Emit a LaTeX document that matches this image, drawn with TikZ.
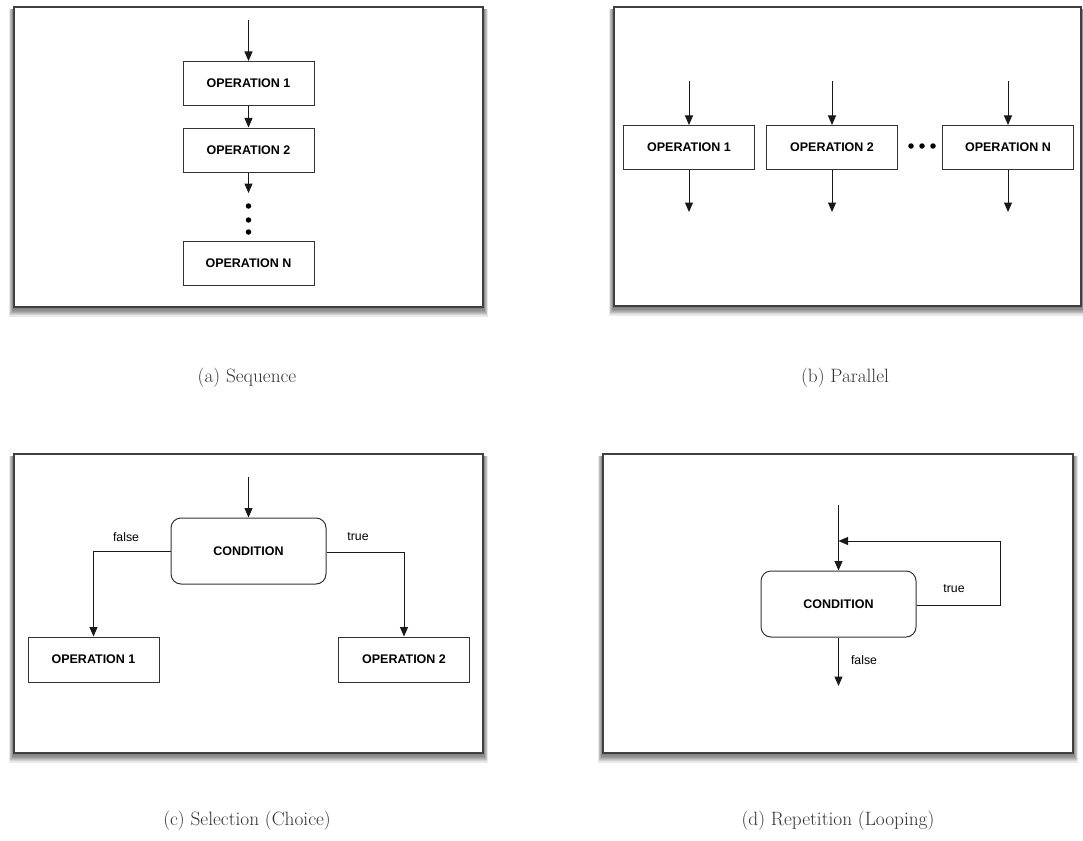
\documentclass[tikz,border=0pt]{standalone}
\usepackage{fontspec}
\newfontfamily\helv{Liberation Sans}
\usetikzlibrary{arrows.meta,calc}
\tikzset{
  frame/.style={draw=black!75,line width=1.5pt,fill=white},
  opbox/.style={draw=black!80,line width=1pt,minimum width=131pt,minimum height=44pt,inner sep=0pt,font=\helv\fontsize{12.5}{14}\selectfont\bfseries},
  condbox/.style={draw=black!80,line width=1pt,rounded corners=10pt,minimum width=155pt,minimum height=66pt,inner sep=0pt,font=\helv\fontsize{12.5}{14}\selectfont\bfseries},
  conn/.style={draw=black!90,line width=1pt,-{Triangle[length=9.5pt,width=8pt]}},
  lbl/.style={font=\helv\fontsize{12.3}{14}\selectfont,inner sep=0pt},
  captext/.style={font=\fontsize{19.3}{22}\selectfont,text=black!80,inner sep=0pt},
  dotnode/.style={fill=black,circle,inner sep=0pt,minimum size=5.5pt}
}
\newcommand{\shadowframe}[4]{%
  \foreach \i in {1,...,8}{
    \fill[black,opacity=0.09] ($(#1,#2)+(-\i*0.6,2)$) rectangle ($(#3,#4)+(\i*0.6,\i*1.2)$);
  }
  \draw[frame] (#1,#2) rectangle (#3,#4);
}
\begin{document}
\begin{tikzpicture}[x=1pt,y=-1pt]
\useasboundingbox (0,0) rectangle (1083,840);
\fill[white] (0,0) rectangle (1083,840);

% frames
\shadowframe{14}{7}{483}{307}
\shadowframe{614}{7}{1081}{306}
\shadowframe{14}{454}{483}{753}
\shadowframe{603}{454}{1073}{753}

% ---- (a) Sequence
\node[opbox] (a1) at (248.5,83.5) {OPERATION 1};
\node[opbox] (a2) at (248.5,150) {OPERATION 2};
\node[opbox] (an) at (248.5,263) {OPERATION N};
\coordinate (ain) at (248.5,20);
\coordinate (aout) at (248.5,193);
\draw[conn] (ain) -- (a1.north);
\draw[conn] (a1.south) -- (a2.north);
\draw[conn] (a2.south) -- (aout);
\node[dotnode] (ad1) at (248.5,206) {};
\node[dotnode] (ad2) at (248.5,220) {};
\node[dotnode] (ad3) at (248.5,232) {};
\node[captext] (capa) at (247,378) {(a) Sequence};

% ---- (b) Parallel
\node[opbox] (b1) at (689,147.5) {OPERATION 1};
\node[opbox] (b2) at (832,147.5) {OPERATION 2};
\node[opbox] (bn) at (1008,147.5) {OPERATION N};
\foreach \n in {b1,b2,bn}{
  \coordinate (\n in) at ($(\n.north)+(0,-44)$);
  \coordinate (\n out) at ($(\n.south)+(0,42)$);
  \draw[conn] (\n in) -- (\n.north);
  \draw[conn] (\n.south) -- (\n out);
}
\node[dotnode] (bd1) at (911,146) {};
\node[dotnode] (bd2) at (922,146) {};
\node[dotnode] (bd3) at (933,146) {};
\node[captext] (capb) at (845,378) {(b) Parallel};

% ---- (c) Selection
\node[condbox] (cc) at (248.5,551) {CONDITION};
\node[opbox,minimum height=45pt] (c1) at (93.5,659.5) {OPERATION 1};
\node[opbox,minimum height=45pt] (c2) at (404,659.5) {OPERATION 2};
\coordinate (cin) at (248.5,477);
\draw[conn] (cin) -- (cc.north);
\draw[conn] (cc.west) -- (c1.north |- cc.west) -- (c1.north);
\draw[conn] ($(cc.east)+(0,1.5)$) -- ($(c2.north |- cc.east)+(0,1.5)$) -- (c2.north);
\node[lbl] (cf) at (126,537) {false};
\node[lbl] (ct) at (358,537) {true};
\node[captext] (capc) at (247,821) {(c) Selection (Choice)};

% ---- (d) Repetition
\node[condbox] (dc) at (838.5,604) {CONDITION};
\coordinate (din) at (838.5,505);
\coordinate (dout) at (838.5,686);
\coordinate (dr1) at (1000,605);
\coordinate (dr2) at (1000,541);
\coordinate (dr3) at (838.5,541);
\draw[conn] (din) -- (dc.north);
\draw[conn] (dc.east |- dr1) -- (dr1) -- (dr2) -- (dr3);
\draw[conn] (dc.south) -- (dout);
\node[lbl] (dt) at (954,589) {true};
\node[lbl] (df) at (864,660) {false};
\node[captext] (capd) at (838,821) {(d) Repetition (Looping)};
\end{tikzpicture}
\end{document}
